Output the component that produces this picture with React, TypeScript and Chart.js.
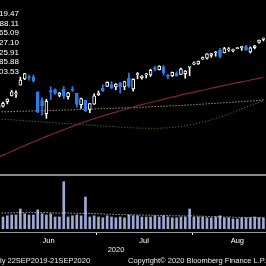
import React, { useEffect, useRef } from 'react';
import { Chart, registerables } from 'chart.js';

Chart.register(...registerables);

const DATES = [
  '2020-05-29',
  '2020-06-01', '2020-06-02', '2020-06-03', '2020-06-04', '2020-06-05', '2020-06-08', '2020-06-09', '2020-06-10',
  '2020-06-11', '2020-06-12', '2020-06-15', '2020-06-16', '2020-06-17', '2020-06-18', '2020-06-19', '2020-06-22',
  '2020-06-23', '2020-06-24', '2020-06-25', '2020-06-26', '2020-06-29', '2020-06-30',
  '2020-07-01', '2020-07-02', '2020-07-06', '2020-07-07', '2020-07-08', '2020-07-09', '2020-07-10', '2020-07-13',
  '2020-07-14', '2020-07-15', '2020-07-16', '2020-07-17', '2020-07-20', '2020-07-21', '2020-07-22', '2020-07-23',
  '2020-07-24', '2020-07-27', '2020-07-28', '2020-07-29', '2020-07-30', '2020-07-31',
  '2020-08-03', '2020-08-04', '2020-08-05', '2020-08-06', '2020-08-07', '2020-08-10', '2020-08-11', '2020-08-12',
  '2020-08-13', '2020-08-14', '2020-08-17', '2020-08-18', '2020-08-19', '2020-08-20', '2020-08-21', '2020-08-24',
  '2020-08-25',
];

const OPEN = [
  3025.2,
  3038.8, 3064.8, 3098.9, 3111.6, 3163.8, 3199.9, 3213.3, 3213.4, 3123.5, 3071.0, 2993.8, 3131.0, 3136.1, 3101.6,
  3140.3, 3094.4, 3138.7, 3114.4, 3046.6, 3073.2, 3018.6, 3050.2,
  3105.9, 3143.6, 3155.3, 3166.4, 3153.1, 3176.2, 3152.5, 3205.1, 3141.1, 3226.0, 3208.4, 3224.2, 3224.3, 3268.5,
  3254.9, 3271.6, 3218.6, 3219.8, 3234.3, 3227.2, 3231.8, 3270.5,
  3288.3, 3289.9, 3317.4, 3323.2, 3340.1, 3356.0, 3370.3, 3355.5, 3373.0, 3368.7, 3380.9, 3387.0, 3392.5, 3360.5,
  3386.0, 3418.1, 3436.0,
];
const HIGH = [
  3049.2,
  3062.2, 3081.1, 3130.9, 3128.9, 3211.7, 3233.1, 3222.7, 3223.3, 3123.5, 3088.4, 3079.8, 3153.5, 3141.2, 3120.0,
  3155.5, 3120.9, 3154.9, 3115.0, 3086.3, 3073.7, 3053.9, 3111.5,
  3128.4, 3165.8, 3182.6, 3184.2, 3171.8, 3179.8, 3186.8, 3235.3, 3201.0, 3238.3, 3220.4, 3233.5, 3258.6, 3277.3,
  3279.3, 3280.0, 3227.3, 3241.4, 3243.7, 3264.7, 3250.9, 3272.2,
  3302.7, 3306.8, 3330.8, 3351.0, 3352.5, 3363.3, 3381.0, 3387.9, 3387.2, 3378.5, 3387.6, 3395.1, 3399.5, 3390.8,
  3400.0, 3432.1, 3444.2,
];
const LOW = [
  2998.6,
  3031.5, 3051.6, 3098.9, 3090.4, 3163.8, 3196.0, 3193.1, 3181.5, 2999.5, 2984.5, 2965.7, 3076.1, 3108.0, 3093.5,
  3083.1, 3079.4, 3127.1, 3032.1, 3024.0, 3004.6, 2999.7, 3047.8,
  3101.2, 3124.5, 3155.3, 3142.9, 3136.5, 3115.7, 3136.2, 3149.4, 3127.7, 3200.8, 3198.6, 3205.7, 3215.2, 3247.8,
  3253.1, 3222.7, 3200.1, 3214.3, 3216.2, 3227.2, 3204.1, 3220.3,
  3284.5, 3286.4, 3317.4, 3318.1, 3328.7, 3335.4, 3326.4, 3355.5, 3363.4, 3361.6, 3379.2, 3370.2, 3369.7, 3354.7,
  3379.3, 3413.1, 3425.8,
];
const CLOSE = [
  3044.3,
  3055.7, 3080.8, 3122.9, 3112.4, 3193.9, 3232.4, 3207.2, 3190.1, 3002.1, 3041.3, 3066.6, 3124.7, 3113.5, 3115.3,
  3097.7, 3117.9, 3131.3, 3050.3, 3083.8, 3009.1, 3053.2, 3100.3,
  3115.9, 3130.0, 3179.7, 3145.3, 3169.9, 3152.1, 3185.0, 3155.2, 3197.5, 3226.6, 3215.6, 3224.7, 3251.8, 3257.3,
  3276.0, 3235.7, 3215.6, 3239.4, 3218.4, 3258.4, 3246.2, 3271.1,
  3294.6, 3306.5, 3327.8, 3349.2, 3351.3, 3360.5, 3333.7, 3380.4, 3373.4, 3372.9, 3382.0, 3389.8, 3374.9, 3385.5,
  3397.2, 3431.3, 3443.6,
];

const MA50 = [
  2736, 2747, 2758, 2770, 2781, 2792, 2803, 2815, 2826, 2836, 2847, 2858, 2868, 2878, 2888, 2898, 2908, 2918, 2928,
  2938, 2947, 2956, 2964, 2972, 2980, 2988, 2995, 3003, 3011, 3018, 3026, 3033, 3041, 3047, 3054, 3060, 3066, 3073,
  3079, 3086, 3092, 3098, 3105, 3111, 3116, 3122, 3128, 3133, 3139, 3145, 3150, 3156, 3162, 3167, 3172, 3178, 3183,
  3188, 3194, 3199, 3204, 3210,
];
const MA100 = [
  2962, 2960, 2958, 2957, 2955, 2953, 2951, 2949, 2948, 2946, 2944, 2942, 2941, 2939, 2937, 2935, 2934, 2932, 2930,
  2929, 2927, 2926, 2924, 2922, 2920, 2918, 2917, 2915, 2913, 2912, 2910, 2909, 2908, 2907, 2907, 2906, 2906, 2907,
  2908, 2909, 2911, 2914, 2917, 2921, 2926, 2931, 2937, 2943, 2950, 2957, 2965, 2973, 2982, 2992, 3002, 3012, 3022,
  3033, 3043, 3052, 3061, 3069,
];
const MA200 = [
  3004, 3005, 3005, 3006, 3007, 3008, 3008, 3009, 3010, 3010, 3011, 3012, 3013, 3013, 3014, 3015, 3016, 3016, 3017,
  3018, 3019, 3020, 3021, 3022, 3023, 3024, 3025, 3026, 3027, 3028, 3029, 3030, 3031, 3032, 3033, 3035, 3036, 3037,
  3038, 3039, 3040, 3041, 3042, 3044, 3045, 3047, 3049, 3050, 3052, 3054, 3055, 3057, 3059, 3060, 3062, 3064, 3065,
  3067, 3069, 3070, 3072, 3074,
];

// volume, billions of shares
const VOLUME = [
  8.5, 3.0, 3.3, 3.5, 3.5, 5.0, 3.8, 3.5, 3.5, 4.8, 3.8, 3.5, 3.8, 3.0, 3.0, 11.8, 3.0, 3.3, 3.5, 3.3, 8.0, 3.0,
  3.3, 3.0, 2.8, 3.3, 3.0, 2.8, 3.0, 2.8, 3.5, 3.3, 3.3, 3.0, 3.0, 3.0, 3.3, 3.0, 3.3, 3.0, 2.8, 2.8, 3.0, 3.0,
  5.0, 3.0, 3.0, 3.0, 2.8, 2.8, 3.0, 3.3, 2.8, 2.8, 2.5, 2.5, 2.8, 2.8, 2.8, 3.0, 2.8, 2.8,
];
const VOLUME_MA = [
  4.0, 4.0, 4.0, 4.05, 4.05, 4.1, 4.1, 4.1, 4.1, 4.15, 4.1, 4.1, 4.05, 4.0, 4.0, 4.05, 4.0, 3.95, 3.9, 3.9, 3.95,
  3.9, 3.85, 3.8, 3.75, 3.7, 3.7, 3.65, 3.6, 3.6, 3.55, 3.55, 3.5, 3.5, 3.45, 3.45, 3.4, 3.4, 3.35, 3.35, 3.3, 3.3,
  3.3, 3.25, 3.3, 3.25, 3.2, 3.2, 3.15, 3.1, 3.1, 3.05, 3.0, 3.0, 2.95, 2.9, 2.9, 2.85, 2.85, 2.8, 2.8, 2.75,
];

const MONTH_LABELS = ['Jun', 'Jul', 'Aug'];
const MONTH_TRADING_DAYS = [22, 22, 21];
const FIRST_MONTH_START_INDEX = 1;
const YEAR_LABEL = '2020';
const LEGEND_VALUES = ['19.47', '88.11', '65.09', '27.10', '25.91', '85.88', '03.53'];
const RANGE_TEXT = 'ly 22SEP2019-21SEP2020';
const COPYRIGHT_TEXT = 'Copyright\u00A9 2020 Bloomberg Finance L.P.';

const FONT = '"Liberation Sans", Arial, sans-serif';
const UP_EDGE = '#ffffff';
const DOWN = '#2b7de9';

function monthTicks() {
  const centers: number[] = [];
  const bounds: number[] = [];
  let start = FIRST_MONTH_START_INDEX;
  MONTH_TRADING_DAYS.forEach((n) => {
    centers.push(start + (n - 1) / 2);
    if (start > FIRST_MONTH_START_INDEX) bounds.push(start - 0.5);
    start += n;
  });
  return { centers, bounds };
}

export default function App() {
  const ref = useRef<HTMLCanvasElement | null>(null);

  useEffect(() => {
    const canvas = ref.current;
    if (!canvas) return;
    const { centers, bounds } = monthTicks();
    const isUp = (i: number) => CLOSE[i] >= OPEN[i];

    const decor = {
      id: 'decor',
      beforeDatasetsDraw(chart: any) {
        const ctx = chart.ctx;
        ctx.save();
        ctx.fillStyle = '#8a8a8a';
        ctx.fillRect(0, 174, chart.width, 2);
        ctx.restore();
      },
      afterDraw(chart: any) {
        const ctx = chart.ctx;
        const xs = chart.scales.x;
        ctx.save();
        ctx.fillStyle = '#9a9a9a';
        ctx.fillRect(0, 232, chart.width, 1);
        ctx.fillStyle = '#ffffff';
        bounds.forEach((b) => {
          const px = Math.round(xs.getPixelForValue(b));
          ctx.fillRect(px, 233, 1, 2);
        });
        ctx.font = '8px ' + FONT;
        ctx.fillStyle = '#ffffff';
        ctx.textAlign = 'right';
        ctx.textBaseline = 'middle';
        LEGEND_VALUES.forEach((v, i) => ctx.fillText(v, 19, 14 + i * 9.6));
        ctx.font = '7.5px ' + FONT;
        ctx.fillStyle = '#e8e8e8';
        ctx.textAlign = 'center';
        ctx.fillText(YEAR_LABEL, 116, 250);
        ctx.textAlign = 'left';
        ctx.fillText(RANGE_TEXT, 0, 261);
        ctx.fillText(COPYRIGHT_TEXT, 128, 261);
        ctx.restore();
      },
    };

    const chart = new Chart(canvas, {
      type: 'bar',
      data: {
        datasets: [
          {
            type: 'bar',
            label: 'Body',
            data: DATES.map((d, i) => ({ x: i, y: [OPEN[i], CLOSE[i]] })) as any,
            backgroundColor: DATES.map((d, i) => (isUp(i) ? '#000000' : DOWN)),
            borderColor: DATES.map((d, i) => (isUp(i) ? UP_EDGE : DOWN)),
            borderWidth: 1,
            borderSkipped: false,
            barThickness: 3,
            minBarLength: 1,
            grouped: false,
            yAxisID: 'y',
            order: 1,
          } as any,
          {
            type: 'bar',
            label: 'Wick',
            data: DATES.map((d, i) => ({ x: i, y: [LOW[i], HIGH[i]] })) as any,
            backgroundColor: DATES.map((d, i) => (isUp(i) ? UP_EDGE : DOWN)),
            borderWidth: 0,
            barThickness: 1,
            grouped: false,
            yAxisID: 'y',
            order: 2,
          } as any,
          {
            type: 'line',
            label: 'MA50',
            data: DATES.map((d, i) => ({ x: i, y: MA50[i] })),
            borderColor: '#85203f',
            borderWidth: 1.2,
            pointRadius: 0,
            tension: 0,
            yAxisID: 'y',
            order: 3,
          } as any,
          {
            type: 'line',
            label: 'MA100',
            data: DATES.map((d, i) => ({ x: i, y: MA100[i] })),
            borderColor: '#3c9a48',
            borderWidth: 1,
            borderDash: [1, 2],
            pointRadius: 0,
            tension: 0,
            yAxisID: 'y',
            order: 3,
          } as any,
          {
            type: 'line',
            label: 'MA200',
            data: DATES.map((d, i) => ({ x: i, y: MA200[i] })),
            borderColor: '#eee08a',
            borderWidth: 1,
            borderDash: [1, 2],
            pointRadius: 0,
            tension: 0,
            yAxisID: 'y',
            order: 3,
          } as any,
          {
            type: 'line',
            label: 'Volume MA',
            data: DATES.map((d, i) => ({ x: i, y: VOLUME_MA[i] })),
            borderColor: '#ffffff',
            borderWidth: 1,
            borderDash: [1, 2],
            pointRadius: 0,
            tension: 0,
            yAxisID: 'yv',
            order: 4,
          } as any,
          {
            type: 'bar',
            label: 'Volume',
            data: DATES.map((d, i) => ({ x: i, y: VOLUME[i] })),
            backgroundColor: '#9ea9d6',
            borderWidth: 0,
            barThickness: 2,
            grouped: false,
            yAxisID: 'yv',
            order: 5,
          } as any,
        ],
      },
      options: {
        responsive: false,
        animation: false,
        maintainAspectRatio: false,
        layout: { padding: 0 },
        plugins: { legend: { display: false }, tooltip: { enabled: false } },
        scales: {
          x: {
            type: 'linear',
            min: 0.309,
            max: 61.6,
            offset: false,
            grid: { display: false, drawTicks: false },
            border: { display: false },
            afterBuildTicks: (s: any) => {
              s.ticks = centers.map((v) => ({ value: v }));
            },
            afterFit: (s: any) => {
              s.height = 37;
            },
            ticks: {
              color: '#ffffff',
              font: { size: 7.5, family: FONT },
              padding: 7.5,
              autoSkip: false,
              maxRotation: 0,
              callback: (v: any, idx: number) => MONTH_LABELS[idx],
            },
          } as any,
          y: { display: false, min: 2307, max: 3670 },
          yv: { display: false, min: 0, max: 57.25 },
        },
      } as any,
      plugins: [decor],
    });
    return () => chart.destroy();
  }, []);

  return (
    <div style={{ position: 'fixed', left: 0, top: 0, width: 266, height: 266, background: '#000', overflow: 'hidden' }}>
      <canvas ref={ref} width={266} height={266} style={{ display: 'block', width: 266, height: 266 }} />
    </div>
  );
}
